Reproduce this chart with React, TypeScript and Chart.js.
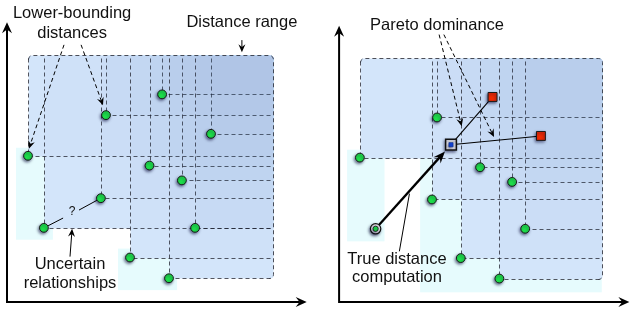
import React, { useEffect, useRef } from "react";
import { Chart, registerables } from "chart.js";
Chart.register(...registerables);

// ---- data (abstract units, 0..100 on both axes) ----
const pointX = [51.7, 33, 68, 7, 47.5, 58.3, 31.3, 12.3, 62.7, 41, 54];
const pointY = [70, 63, 56.7, 49.3, 46, 41, 35, 25, 25, 15, 8];
const queryIndex = 7;
const dominatedIdx = [0, 2];
const computedX = [37.7];
const computedY = [53.7];
const rangeTop = 83.3;
const rangeRight = 88.5;
const axisTipY = 94.3;
const axisTipXLeft = 99.9;
const axisTipXRight = 97.8;
// shaded lower regions: [x0, x1, y0, y1]
const shadeLeft = [
  [3, 15.3, 21, 52],
  [37, 56.7, 4, 18],
];
const shadeRight = [
  [2.7, 15.3, 20.7, 52],
  [27.3, 88.5, 3.3, 52],
];

type Label = { text: string; x: number; y: number; size?: number };
type Seg = { from: number[]; to: number[]; dashed?: boolean; head?: boolean; width?: number };

const leftLabels: Label[] = [
  { text: "Lower-bounding", x: 21.7, y: 95.7 },
  { text: "distances", x: 21.7, y: 89 },
  { text: "Distance range", x: 78.3, y: 92.7 },
  { text: "Uncertain", x: 21, y: 11 },
  { text: "relationships", x: 21, y: 4.7 },
  { text: "?", x: 21.7, y: 29.2, size: 12 },
];
const leftSegs: Seg[] = [
  { from: [19, 86.7], to: [7.3, 51.7], dashed: true, head: true },
  { from: [24.7, 86.7], to: [32, 66.3], dashed: true, head: true },
  { from: [78.3, 88.3], to: [78.3, 84.2], head: true },
  { from: [21, 15.3], to: [21.7, 24.7], head: true },
  { from: [13.7, 25.7], to: [18.7, 28.3] },
  { from: [24, 31], to: [30, 34.3] },
];
const rightLabels: Label[] = [
  { text: "Pareto dominance", x: 33, y: 93 },
  { text: "True distance", x: 19.5, y: 13 },
  { text: "computation", x: 19.5, y: 6.7 },
];
const rightSegs: Seg[] = [
  { from: [33.7, 91.3], to: [41.3, 60], dashed: true, head: true },
  { from: [35.3, 91.3], to: [52.2, 56.3], dashed: true, head: true },
  { from: [20.3, 17.3], to: [23.7, 37] },
];

const FONT = '"Liberation Sans", Arial, Helvetica, sans-serif';

function drawHead(ctx: CanvasRenderingContext2D, tx: number, ty: number, ang: number, len: number, hw: number) {
  const dx = Math.cos(ang), dy = Math.sin(ang);
  const nx = -dy, ny = dx;
  ctx.beginPath();
  ctx.moveTo(tx, ty);
  ctx.lineTo(tx - len * dx + hw * nx, ty - len * dy + hw * ny);
  ctx.lineTo(tx - 0.65 * len * dx, ty - 0.65 * len * dy);
  ctx.lineTo(tx - len * dx - hw * nx, ty - len * dy - hw * ny);
  ctx.closePath();
  ctx.fill();
}

function makePlugin(panel: "left" | "right") {
  return {
    id: "diagram" + panel,
    beforeDatasetsDraw(chart: any) {
      const ctx: CanvasRenderingContext2D = chart.ctx;
      const xs = chart.scales.x, ys = chart.scales.y;
      const px = (v: number) => xs.getPixelForValue(v);
      const py = (v: number) => ys.getPixelForValue(v);
      ctx.save();
      // shaded regions
      const shades = panel === "left" ? shadeLeft : shadeRight;
      ctx.fillStyle = "#e6fbfd";
      shades.forEach(([x0, x1, y0, y1]) => {
        ctx.fillRect(px(x0), py(y1), px(x1) - px(x0), py(y0) - py(y1));
      });
      // which rectangles exist
      const idx = pointX.map((_, i) => i).filter((i) =>
        panel === "left" ? true : i !== queryIndex && !dominatedIdx.includes(i)
      );
      const top = Math.round(py(rangeTop)) + 0.5;
      const right = Math.round(px(rangeRight)) + 0.5;
      const rr = (i: number) => {
        const x = Math.round(px(pointX[i])) + 0.5;
        const y = Math.round(py(pointY[i])) + 0.5;
        return { x, y };
      };
      ctx.fillStyle = "#d7e9fc";
      idx.forEach((i) => {
        const { x, y } = rr(i);
        ctx.beginPath();
        (ctx as any).roundRect(x, top, right - x, y - top, 3);
        ctx.fill();
      });
      idx.forEach((i) => {
        const { x, y } = rr(i);
        ctx.fillStyle = "rgba(110,130,190,0.03)";
        ctx.beginPath();
        (ctx as any).roundRect(x, top, right - x, y - top, 3);
        ctx.fill();
        ctx.setLineDash([4, 3]);
        ctx.strokeStyle = "rgba(25,25,35,0.72)";
        ctx.lineWidth = 1;
        ctx.beginPath();
        ctx.moveTo(x, top + 3);
        ctx.lineTo(x, y);
        ctx.stroke();
        ctx.beginPath();
        ctx.moveTo(right - 3, y);
        ctx.lineTo(x, y);
        ctx.stroke();
      });
      // outer boundary
      const minX = Math.min(...idx.map((i) => rr(i).x));
      const maxY = Math.max(...idx.map((i) => rr(i).y));
      const r = 4;
      ctx.setLineDash([4, 3]);
      ctx.strokeStyle = "rgba(25,25,35,0.75)";
      ctx.beginPath();
      ctx.moveTo(minX, top + r);
      ctx.arcTo(minX, top, minX + r, top, r);
      ctx.lineTo(right - r, top);
      ctx.arcTo(right, top, right, top + r, r);
      ctx.lineTo(right, maxY - r);
      ctx.arcTo(right, maxY, right - r, maxY, r);
      ctx.stroke();
      ctx.setLineDash([]);

      // axes
      ctx.strokeStyle = "#000";
      ctx.fillStyle = "#000";
      ctx.lineWidth = 2;
      const ox = px(0), oy = py(0);
      const tipY = py(axisTipY);
      const tipX = px(panel === "left" ? axisTipXLeft : axisTipXRight);
      ctx.beginPath();
      ctx.moveTo(ox, oy + 1);
      ctx.lineTo(ox, tipY + 7);
      ctx.moveTo(ox - 1, oy);
      ctx.lineTo(tipX - 7, oy);
      ctx.stroke();
      drawHead(ctx, ox, tipY, -Math.PI / 2, 11, 5);
      drawHead(ctx, tipX, oy, 0, 11, 5);

      // annotation segments
      const segs = panel === "left" ? leftSegs : rightSegs;
      segs.forEach((s) => {
        const x0 = px(s.from[0]), y0 = py(s.from[1]);
        const x1 = px(s.to[0]), y1 = py(s.to[1]);
        const ang = Math.atan2(y1 - y0, x1 - x0);
        const hl = 8;
        const ex = s.head ? x1 - Math.cos(ang) * hl * 0.6 : x1;
        const ey = s.head ? y1 - Math.sin(ang) * hl * 0.6 : y1;
        ctx.lineWidth = s.width || 1;
        ctx.setLineDash(s.dashed ? [4, 3] : []);
        ctx.strokeStyle = "#000";
        ctx.beginPath();
        ctx.moveTo(x0, y0);
        ctx.lineTo(ex, ey);
        ctx.stroke();
        ctx.setLineDash([]);
        if (s.head) drawHead(ctx, x1, y1, ang, hl, 3.5);
      });

      if (panel === "right") {
        const cx = px(computedX[0]), cy = py(computedY[0]);
        // dominance lines
        ctx.lineWidth = 1.1;
        ctx.strokeStyle = "#000";
        dominatedIdx.forEach((i) => {
          ctx.beginPath();
          ctx.moveTo(cx, cy);
          ctx.lineTo(px(pointX[i]), py(pointY[i]));
          ctx.stroke();
        });
        // true distance computation arrow
        const qx = px(pointX[queryIndex]), qy = py(pointY[queryIndex]);
        const ang = Math.atan2(cy - qy, cx - qx);
        const dx = Math.cos(ang), dy = Math.sin(ang);
        const tx = cx - dx * 9, ty = cy - dy * 9;
        ctx.lineWidth = 2.3;
        ctx.beginPath();
        ctx.moveTo(qx + dx * 5, qy + dy * 5);
        ctx.lineTo(tx - dx * 7, ty - dy * 7);
        ctx.stroke();
        drawHead(ctx, tx, ty, ang, 12, 4.8);
      }
      ctx.restore();
    },
    afterDatasetsDraw(chart: any) {
      const ctx: CanvasRenderingContext2D = chart.ctx;
      const xs = chart.scales.x, ys = chart.scales.y;
      const labels = panel === "left" ? leftLabels : rightLabels;
      ctx.save();
      ctx.fillStyle = "#111";
      ctx.textAlign = "center";
      ctx.textBaseline = "alphabetic";
      labels.forEach((l) => {
        ctx.font = `${l.size || 16.5}px ${FONT}`;
        ctx.fillText(l.text, xs.getPixelForValue(l.x), ys.getPixelForValue(l.y));
      });
      ctx.restore();
    },
    beforeDatasetDraw(chart: any) {
      const ctx = chart.ctx;
      ctx.save();
      ctx.shadowColor = "rgba(0,0,50,0.55)";
      ctx.shadowBlur = 3;
      ctx.shadowOffsetX = -1;
      ctx.shadowOffsetY = 1.5;
    },
    afterDatasetDraw(chart: any) {
      chart.ctx.restore();
    },
  };
}

function pts(indices: number[]) {
  return indices.map((i) => ({ x: pointX[i], y: pointY[i] }));
}

function buildDatasets(panel: "left" | "right") {
  const all = pointX.map((_, i) => i);
  const green = {
    label: "candidates",
    data: pts(panel === "left" ? all : all.filter((i) => i !== queryIndex && !dominatedIdx.includes(i))),
    pointStyle: "circle",
    pointRadius: 4.4,
    backgroundColor: "#1ee04a",
    borderColor: "#1a1a1a",
    borderWidth: 1,
    clip: false,
    order: 6,
  };
  if (panel === "left") return [green];
  return [
    green,
    {
      label: "dominated",
      data: pts(dominatedIdx),
      pointStyle: "rect",
      pointRadius: 6.3,
      backgroundColor: "#f02a00",
      borderColor: "#1a1a1a",
      borderWidth: 1,
      clip: false,
      order: 5,
    },
    {
      label: "query outer",
      data: pts([queryIndex]),
      pointStyle: "circle",
      pointRadius: 5.2,
      backgroundColor: "#ffffff",
      borderColor: "#111",
      borderWidth: 1.2,
      clip: false,
      order: 4,
    },
    {
      label: "query",
      data: pts([queryIndex]),
      pointStyle: "circle",
      pointRadius: 2.6,
      backgroundColor: "#1ee04a",
      borderColor: "#111",
      borderWidth: 0.8,
      clip: false,
      order: 3,
    },
    {
      label: "computed outer",
      data: computedX.map((x, i) => ({ x, y: computedY[i] })),
      pointStyle: "rect",
      pointRadius: 7.6,
      backgroundColor: "#ffffff",
      borderColor: "#111",
      borderWidth: 1.5,
      clip: false,
      order: 2,
    },
    {
      label: "computed",
      data: computedX.map((x, i) => ({ x, y: computedY[i] })),
      pointStyle: "rect",
      pointRadius: 3,
      backgroundColor: "#1548e0",
      borderColor: "#0a2a80",
      borderWidth: 0.6,
      clip: false,
      order: 1,
    },
  ];
}

function Panel({ panel, left }: { panel: "left" | "right"; left: number }) {
  const ref = useRef<HTMLCanvasElement>(null);
  useEffect(() => {
    if (!ref.current) return;
    const chart = new Chart(ref.current, {
      type: "scatter",
      data: { datasets: buildDatasets(panel) as any },
      options: {
        responsive: false,
        animation: false,
        events: [],
        layout: { padding: { left: 7, right: 8, top: 2, bottom: 10 } },
        plugins: { legend: { display: false }, tooltip: { enabled: false } },
        scales: {
          x: { type: "linear", min: 0, max: 100, display: false },
          y: { type: "linear", min: 0, max: 100, display: false },
        },
      },
      plugins: [makePlugin(panel) as any],
    });
    return () => chart.destroy();
  }, [panel]);
  return (
    <canvas
      ref={ref}
      width={315}
      height={312}
      style={{ position: "absolute", left, top: 0, width: 315, height: 312 }}
    />
  );
}

export default function App() {
  return (
    <div
      style={{
        position: "fixed",
        left: 0,
        top: 0,
        width: 631,
        height: 312,
        overflow: "hidden",
        background: "#ffffff",
      }}
    >
      <Panel panel="left" left={0} />
      <Panel panel="right" left={330} />
    </div>
  );
}
